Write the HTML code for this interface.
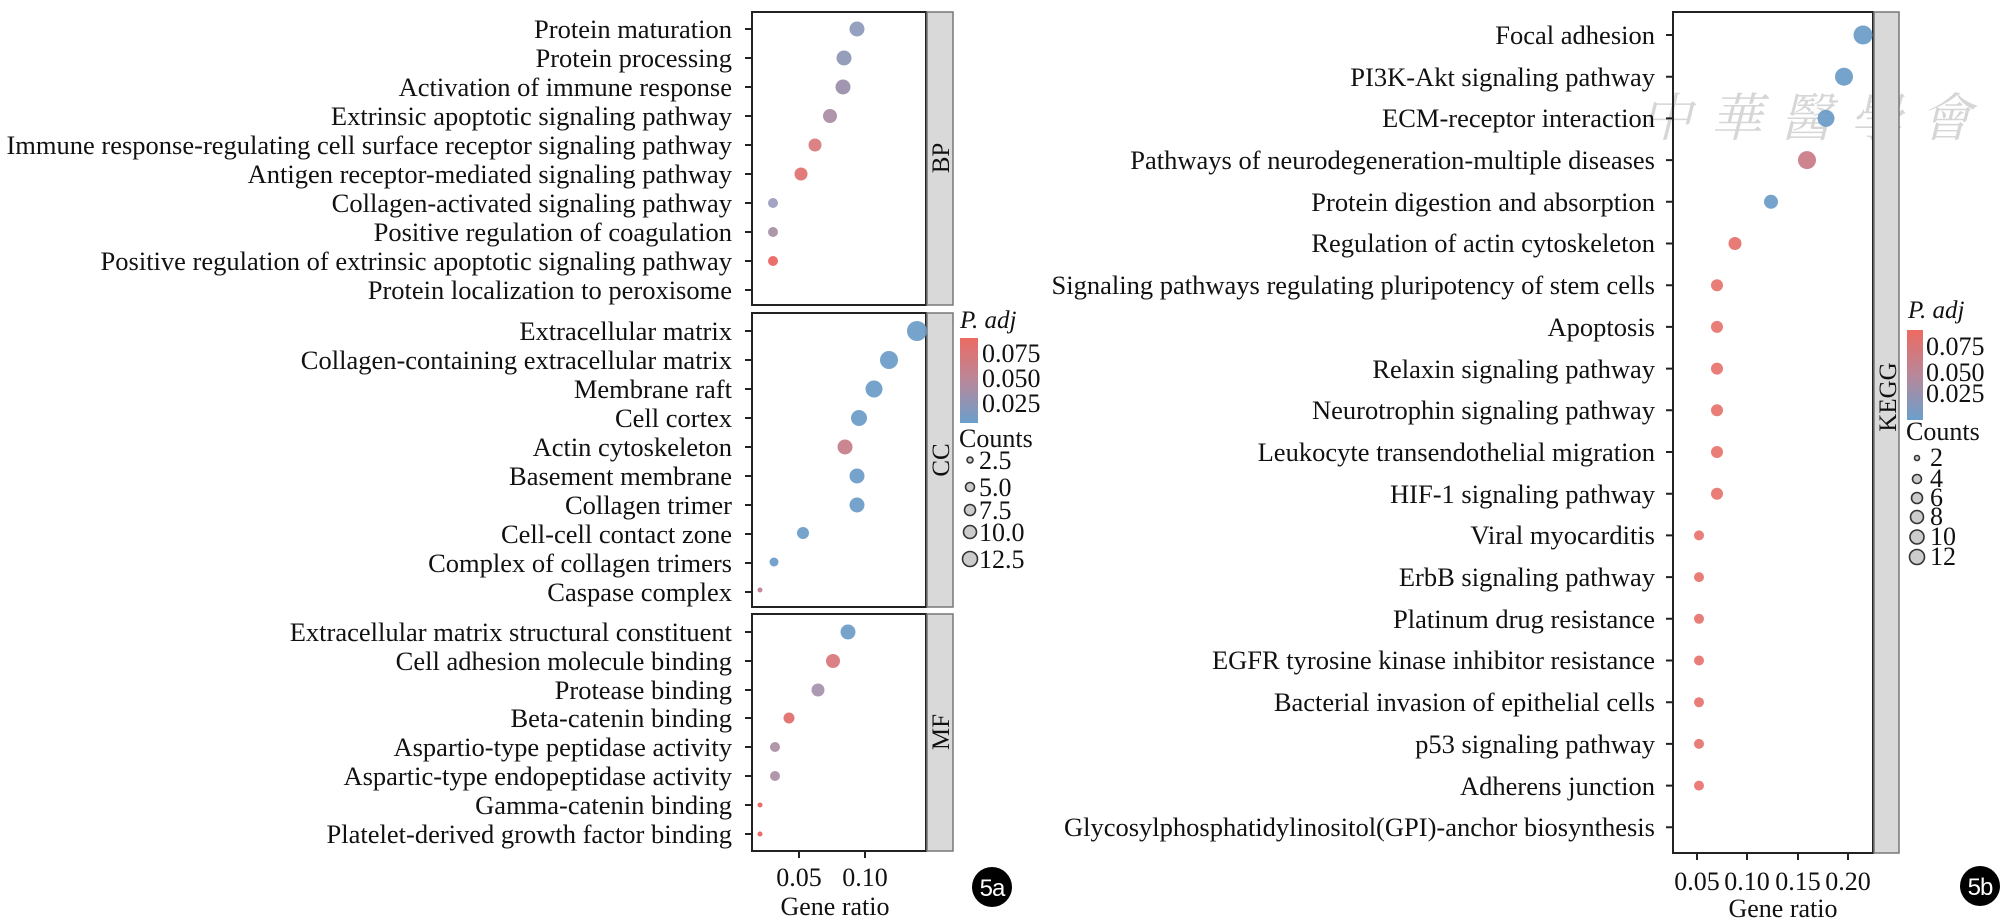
<!DOCTYPE html>
<html><head><meta charset="utf-8"><style>
html,body{margin:0;padding:0;background:#fff;}
svg{display:block;font-family:"Liberation Serif",serif;}
</style></head><body>
<svg width="2008" height="921" viewBox="0 0 2008 921" xmlns="http://www.w3.org/2000/svg">
<defs>
<linearGradient id="g" x1="0" y1="0" x2="0" y2="1">
<stop offset="0" stop-color="#ec6b62"/><stop offset="0.5" stop-color="#b8879a"/><stop offset="1" stop-color="#6b9fcb"/>
</linearGradient>
</defs>
<!-- LEFT PANEL -->
<g font-size="26.5" text-anchor="end" fill="#111">
<text x="732" y="38">Protein maturation</text>
<text x="732" y="67">Protein processing</text>
<text x="732" y="96">Activation of immune response</text>
<text x="732" y="125">Extrinsic apoptotic signaling pathway</text>
<text x="732" y="154">Immune response-regulating cell surface receptor signaling pathway</text>
<text x="732" y="183">Antigen receptor-mediated signaling pathway</text>
<text x="732" y="212">Collagen-activated signaling pathway</text>
<text x="732" y="241">Positive regulation of coagulation</text>
<text x="732" y="270">Positive regulation of extrinsic apoptotic signaling pathway</text>
<text x="732" y="299">Protein localization to peroxisome</text>
<text x="732" y="340">Extracellular matrix</text>
<text x="732" y="369">Collagen-containing extracellular matrix</text>
<text x="732" y="398">Membrane raft</text>
<text x="732" y="427">Cell cortex</text>
<text x="732" y="456">Actin cytoskeleton</text>
<text x="732" y="485">Basement membrane</text>
<text x="732" y="514">Collagen trimer</text>
<text x="732" y="543">Cell-cell contact zone</text>
<text x="732" y="572">Complex of collagen trimers</text>
<text x="732" y="601">Caspase complex</text>
<text x="732" y="641">Extracellular matrix structural constituent</text>
<text x="732" y="670">Cell adhesion molecule binding</text>
<text x="732" y="699">Protease binding</text>
<text x="732" y="727">Beta-catenin binding</text>
<text x="732" y="756">Aspartio-type peptidase activity</text>
<text x="732" y="785">Aspartic-type endopeptidase activity</text>
<text x="732" y="814">Gamma-catenin binding</text>
<text x="732" y="843">Platelet-derived growth factor binding</text>
</g>
<g stroke="#222" stroke-width="2" fill="none">
<rect x="752" y="12" width="174" height="293"/>
<rect x="752" y="313" width="174" height="294"/>
<rect x="752" y="614" width="174" height="237"/>
<path d="M745 29h7M745 58h7M745 87h7M745 116h7M745 145h7M745 174h7M745 203h7M745 232h7M745 261h7M745 290h7
M745 331h7M745 360h7M745 389h7M745 418h7M745 447h7M745 476h7M745 505h7M745 534h7M745 563h7M745 592h7
M745 632h7M745 661h7M745 690h7M745 718h7M745 747h7M745 776h7M745 805h7M745 834h7
M799 851v7M865 851v7"/>
</g>
<g fill="#d9d9d9" stroke="#777" stroke-width="1.5">
<rect x="927" y="12" width="26" height="293"/>
<rect x="927" y="313" width="26" height="294"/>
<rect x="927" y="614" width="26" height="237"/>
</g>
<g font-size="25" fill="#111" text-anchor="middle">
<text transform="translate(949,158) rotate(-90)">BP</text>
<text transform="translate(949,460) rotate(-90)">CC</text>
<text transform="translate(949,732) rotate(-90)">MF</text>
</g>
<g opacity="0.92">
<circle cx="857" cy="29" r="7.5" fill="#8e9aba"/>
<circle cx="844" cy="58" r="7.5" fill="#8d96b5"/>
<circle cx="843" cy="87" r="7.5" fill="#9a8daa"/>
<circle cx="830" cy="116" r="7" fill="#a88da6"/>
<circle cx="815" cy="145" r="6.5" fill="#d8787a"/>
<circle cx="801" cy="174" r="6.5" fill="#e0716f"/>
<circle cx="773" cy="203" r="5" fill="#9c9dc0"/>
<circle cx="773" cy="232" r="5" fill="#a88fa3"/>
<circle cx="773" cy="261" r="5" fill="#ea625d"/>
<circle cx="917" cy="331" r="10" fill="#6a9cc8"/>
<circle cx="889" cy="360" r="9" fill="#6a9cc8"/>
<circle cx="874" cy="389" r="8.5" fill="#6a9cc8"/>
<circle cx="859" cy="418" r="8" fill="#6a9cc8"/>
<circle cx="845" cy="447" r="7.5" fill="#c67c88"/>
<circle cx="857" cy="476" r="7.5" fill="#6a9cc8"/>
<circle cx="857" cy="505" r="7.5" fill="#6a9cc8"/>
<circle cx="803" cy="533" r="6" fill="#6a9cc8"/>
<circle cx="774" cy="562" r="4.5" fill="#6a9cc8"/>
<circle cx="760" cy="590" r="2.5" fill="#c07f8e"/>
<circle cx="848" cy="632" r="7.5" fill="#6a9cc8"/>
<circle cx="833" cy="661" r="7" fill="#d9767a"/>
<circle cx="818" cy="690" r="6.5" fill="#a692ad"/>
<circle cx="789" cy="718" r="5.5" fill="#df6d6b"/>
<circle cx="775" cy="747" r="5" fill="#ab8fa3"/>
<circle cx="775" cy="776" r="5" fill="#ab8fa3"/>
<circle cx="760" cy="805" r="2.5" fill="#e8625d"/>
<circle cx="760" cy="834" r="2.5" fill="#e8625d"/>
</g>
<g font-size="26" fill="#111" text-anchor="middle">
<text x="799" y="886">0.05</text>
<text x="865" y="886">0.10</text>
<text x="835" y="915">Gene ratio</text>
</g>
<!-- left legend -->
<text x="960" y="328" font-size="25" font-style="italic" fill="#111">P. adj</text>
<rect x="960" y="338" width="18" height="85" fill="url(#g)"/>
<g font-size="26" fill="#111">
<text x="982" y="362">0.075</text><text x="982" y="387">0.050</text><text x="982" y="412">0.025</text>
<text x="959" y="447">Counts</text>
<text x="979" y="469">2.5</text><text x="979" y="496">5.0</text><text x="979" y="519">7.5</text><text x="979" y="541">10.0</text><text x="979" y="568">12.5</text>
</g>
<g fill="#ccc" stroke="#333" stroke-width="1.6">
<circle cx="970" cy="460" r="3"/><circle cx="970" cy="487" r="4.5"/><circle cx="970" cy="510" r="5.5"/><circle cx="970" cy="532" r="6.5"/><circle cx="970" cy="559" r="7.5"/>
</g>
<circle cx="992" cy="887" r="20" fill="#000"/>
<text x="992" y="896" font-family="Liberation Sans,sans-serif" font-size="24" fill="#fff" text-anchor="middle" letter-spacing="-1">5a</text>

<!-- RIGHT PANEL -->
<text x="1640" y="136" font-size="52" fill="#d6d6d6" font-family="'Noto Serif CJK SC',serif" letter-spacing="18" font-style="italic">中華醫學會</text>
<g font-size="26.5" text-anchor="end" fill="#111">
<text x="1655" y="44">Focal adhesion</text>
<text x="1655" y="86">PI3K-Akt signaling pathway</text>
<text x="1655" y="127">ECM-receptor interaction</text>
<text x="1655" y="169">Pathways of neurodegeneration-multiple diseases</text>
<text x="1655" y="211">Protein digestion and absorption</text>
<text x="1655" y="252">Regulation of actin cytoskeleton</text>
<text x="1655" y="294">Signaling pathways regulating pluripotency of stem cells</text>
<text x="1655" y="336">Apoptosis</text>
<text x="1655" y="378">Relaxin signaling pathway</text>
<text x="1655" y="419">Neurotrophin signaling pathway</text>
<text x="1655" y="461">Leukocyte transendothelial migration</text>
<text x="1655" y="503">HIF-1 signaling pathway</text>
<text x="1655" y="544">Viral myocarditis</text>
<text x="1655" y="586">ErbB signaling pathway</text>
<text x="1655" y="628">Platinum drug resistance</text>
<text x="1655" y="669">EGFR tyrosine kinase inhibitor resistance</text>
<text x="1655" y="711">Bacterial invasion of epithelial cells</text>
<text x="1655" y="753">p53 signaling pathway</text>
<text x="1655" y="795">Adherens junction</text>
<text x="1655" y="836">Glycosylphosphatidylinositol(GPI)-anchor biosynthesis</text>
</g>
<g stroke="#222" stroke-width="2" fill="none">
<rect x="1673" y="12" width="200" height="841"/>
<path d="M1666 35h7M1666 76.7h7M1666 118.4h7M1666 160.1h7M1666 201.8h7M1666 243.5h7M1666 285.2h7M1666 326.9h7M1666 368.6h7M1666 410.3h7M1666 452h7M1666 493.7h7M1666 535.4h7M1666 577.1h7M1666 618.8h7M1666 660.5h7M1666 702.2h7M1666 743.9h7M1666 785.6h7M1666 827.3h7
M1697 853v7M1747 853v7M1798 853v7M1848 853v7"/>
</g>
<rect x="1874" y="12" width="25" height="841" fill="#d9d9d9" stroke="#777" stroke-width="1.5"/>
<text transform="translate(1896,397) rotate(-90)" font-size="25" fill="#111" text-anchor="middle">KEGG</text>
<g opacity="0.92">
<circle cx="1863" cy="35" r="9.5" fill="#6a9cc8"/>
<circle cx="1844" cy="76.7" r="9" fill="#6a9cc8"/>
<circle cx="1826" cy="118.4" r="8.5" fill="#6a9cc8"/>
<circle cx="1807" cy="160.1" r="9" fill="#c97a85"/>
<circle cx="1771" cy="201.8" r="7" fill="#6a9cc8"/>
<circle cx="1735" cy="243.5" r="6.5" fill="#e5706b"/>
<circle cx="1717" cy="285.2" r="6" fill="#e8726c"/>
<circle cx="1717" cy="326.9" r="6" fill="#e8726c"/>
<circle cx="1717" cy="368.6" r="6" fill="#e8726c"/>
<circle cx="1717" cy="410.3" r="6" fill="#e8726c"/>
<circle cx="1717" cy="452" r="6" fill="#e8726c"/>
<circle cx="1717" cy="493.7" r="6" fill="#e8726c"/>
<circle cx="1699" cy="535.4" r="5" fill="#e8726c"/>
<circle cx="1699" cy="577.1" r="5" fill="#e8726c"/>
<circle cx="1699" cy="618.8" r="5" fill="#e8726c"/>
<circle cx="1699" cy="660.5" r="5" fill="#e8726c"/>
<circle cx="1699" cy="702.2" r="5" fill="#e8726c"/>
<circle cx="1699" cy="743.9" r="5" fill="#e8726c"/>
<circle cx="1699" cy="785.6" r="5" fill="#e8726c"/>
</g>
<g font-size="26" fill="#111" text-anchor="middle">
<text x="1697" y="890">0.05</text><text x="1747" y="890">0.10</text><text x="1798" y="890">0.15</text><text x="1848" y="890">0.20</text>
<text x="1783" y="917">Gene ratio</text>
</g>
<text x="1908" y="318" font-size="25" font-style="italic" fill="#111">P. adj</text>
<rect x="1907" y="330" width="16" height="90" fill="url(#g)"/>
<g font-size="26" fill="#111">
<text x="1926" y="355">0.075</text><text x="1926" y="381">0.050</text><text x="1926" y="402">0.025</text>
<text x="1906" y="440">Counts</text>
<text x="1930" y="466">2</text><text x="1930" y="487">4</text><text x="1930" y="506">6</text><text x="1930" y="525">8</text><text x="1930" y="545">10</text><text x="1930" y="565">12</text>
</g>
<g fill="#ccc" stroke="#333" stroke-width="1.6">
<circle cx="1917" cy="458" r="2.5"/><circle cx="1917" cy="479" r="4.5"/><circle cx="1917" cy="498" r="5.5"/><circle cx="1917" cy="517" r="6.5"/><circle cx="1917" cy="537" r="7"/><circle cx="1917" cy="557" r="7.5"/>
</g>
<circle cx="1980" cy="886" r="20" fill="#000"/>
<text x="1980" y="895" font-family="Liberation Sans,sans-serif" font-size="24" fill="#fff" text-anchor="middle" letter-spacing="-1">5b</text>
</svg>
</body></html>
